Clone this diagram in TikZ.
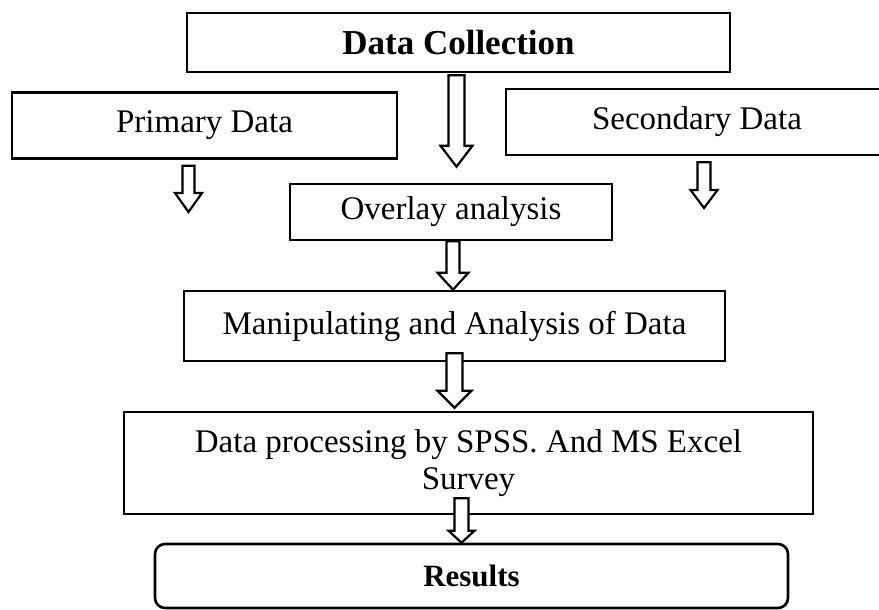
\documentclass[tikz,border=0pt]{standalone}
\usepackage{fontspec}
\setmainfont{Liberation Serif}
\usepackage{tikz}
\usetikzlibrary{calc,positioning}
\tikzset{
  doboz/.style={draw,line width=2.6pt,align=center,inner sep=0pt,
                font=\fontsize{33}{37}\selectfont},
  fodoboz/.style={doboz,font=\fontsize{35}{40}\selectfont\bfseries},
  vegdoboz/.style={doboz,rounded corners=10pt,font=\fontsize{31}{36}\selectfont\bfseries},
  ureskar/.style={line width=2.2pt,fill=white,line join=miter},
}
% hollow block arrow: start, tip, half shaft, half head, head length
\newcommand{\uresnyil}[5]{%
  \draw[ureskar] let \p1=(#1), \p2=(#2) in
    (\x1-#3pt,\y1) -- (\x1-#3pt,\y2+#5pt) -- (\x1-#4pt,\y2+#5pt) -- (\x1,\y2)
    -- (\x1+#4pt,\y2+#5pt) -- (\x1+#3pt,\y2+#5pt) -- (\x1+#3pt,\y1) -- cycle;}

\begin{document}
\begin{tikzpicture}[x=1pt,y=-1pt]
  \useasboundingbox (0,0) rectangle (879,610);
  \clip (0,0) rectangle (879,610);
  \node[fodoboz,minimum width=543pt,minimum height=59pt] (gyujt) at (458.5,42.5) {Data Collection};
  \node[doboz,minimum width=385pt,minimum height=66pt] (elsod) at (204.5,125.5) {Primary Data};
  \node[doboz,minimum width=382pt,minimum height=66pt] (masod) at (697,122) {Secondary Data};
  \node[doboz,minimum width=322pt,minimum height=56pt] (atfed) at (451,212) {Overlay analysis};
  \node[doboz,minimum width=541pt,minimum height=70pt] (elemz) at (454.5,326) {Manipulating and Analysis of Data};
  \node[doboz,minimum width=689pt,minimum height=102pt] (feldolg) at (468.5,463) {Data processing by SPSS. And MS Excel\\ Survey};
  \node[vegdoboz,minimum width=633pt,minimum height=64pt] (ered) at (471.5,576) {Results};
  \coordinate (elsodveg) at (188,212);
  \coordinate (masodveg) at (704,208);
  \uresnyil{[xshift=-2pt,yshift=-2pt]gyujt.south}{[yshift=16pt]atfed.north}{8}{16}{21}
  \uresnyil{[xshift=-16pt,yshift=-6pt]elsod.south}{elsodveg}{6}{13.5}{19}
  \uresnyil{[xshift=7pt,yshift=-6pt]masod.south}{masodveg}{6.5}{13.5}{18}
  \uresnyil{[xshift=2pt]atfed.south}{elemz.north}{6.5}{15.5}{17}
  \uresnyil{[yshift=9pt]elemz.south}{[yshift=3pt]feldolg.north}{8}{17}{17}
  \uresnyil{[xshift=-7pt,yshift=17pt]feldolg.south}{ered.north}{7}{13}{12}
\end{tikzpicture}
\end{document}
